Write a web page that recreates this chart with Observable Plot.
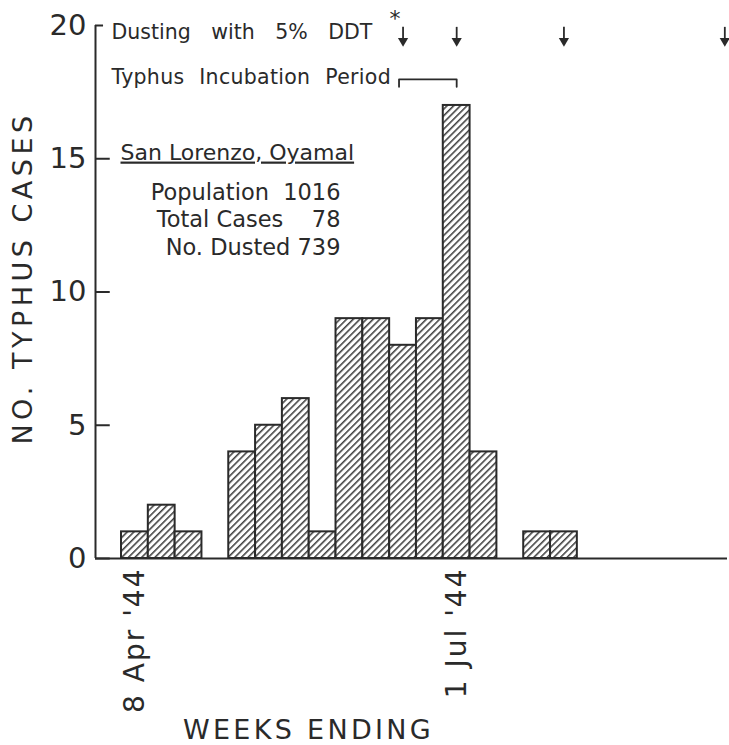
<!DOCTYPE html>
<html><head><meta charset="utf-8">
<script src="https://cdn.jsdelivr.net/npm/d3@7"></script>
<script src="https://cdn.jsdelivr.net/npm/@observablehq/plot@0.6"></script>
<style>body{margin:0;background:#fff;} svg{display:block;}</style>
</head><body><div id="chart"></div>
<script>
// week index 0 = week ending 8 Apr '44
const weeks = [0,1,2,3,4,5,6,7,8,9,10,11,12,13,14,15,16];
const cases = [1,2,1,0,4,5,6,1,9,9,8,9,17,4,0,1,1];
const tickWeeks = [0, 12];
const tickLabels = ["8 Apr '44", "1 Jul '44"];
const yTicks = [0, 5, 10, 15, 20];
const dustingWeeks = [10, 12, 16, 22];
const incubationWeeks = [9.85, 12];
const dustingText = "Dusting with 5% DDT";
const incubationText = "Typhus Incubation Period";
const placeTitle = "San Lorenzo, Oyamal";
const statLabels = ["Population", "Total Cases", "No. Dusted"];
const statValues = [1016, 78, 739];
const yTitle = "NO. TYPHUS CASES";
const xTitle = "WEEKS ENDING";

const data = weeks.map((w, i) => ({week: w, cases: cases[i]})).filter(d => d.cases > 0);
const ink = "#2a2a2a";
const font = "DejaVu Sans";
const xMin = -1.47, xMax = 22.1;
const bracketY = 17.98, bracketDrop = 0.28;
const bracket = [
  {x: incubationWeeks[0], y: bracketY - bracketDrop},
  {x: incubationWeeks[0], y: bracketY},
  {x: incubationWeeks[1], y: bracketY},
  {x: incubationWeeks[1], y: bracketY - bracketDrop}
];

const statGaps = [2, 4, 1];
const statMarks = statLabels.map((label, i) =>
  Plot.text([label + "\u00a0".repeat(statGaps[i]) + statValues[i]], {frameAnchor: "top-left", dx: 245, dy: 167 + i * 27.5,
    textAnchor: "end", lineAnchor: "middle", fontSize: 22.5, fill: ink}));

const svg = Plot.plot({
  width: 729, height: 745,
  marginTop: 25, marginBottom: 187, marginLeft: 95, marginRight: 2,
  style: {fontFamily: font, color: ink, background: "white", overflow: "visible"},
  x: {domain: [xMin, xMax], axis: null},
  y: {domain: [0, 20], axis: null},
  marks: [
    Plot.rectY(data, {x1: d => d.week - 0.5, x2: d => d.week + 0.5, y: "cases",
      fill: "url(#hatch)", stroke: ink, strokeWidth: 2, inset: 0}),
    Plot.ruleY([0], {stroke: ink, strokeWidth: 2}),
    Plot.ruleX([xMin], {stroke: ink, strokeWidth: 2}),
    Plot.ruleY(yTicks, {x1: xMin, x2: d => xMin + (d === 20 ? 0.3 : 0.55), stroke: ink, strokeWidth: 2}),
    Plot.text(yTicks, {x: xMin, y: d => d, text: d => String(d), dx: -9, textAnchor: "end", fontSize: 29, fill: ink}),
    Plot.text(tickWeeks, {x: d => d, y: 0, text: (d, i) => tickLabels[i], rotate: -90, textAnchor: "end", dy: 9, fontSize: 28, fill: ink}),
    Plot.text([yTitle], {frameAnchor: "left", textAnchor: "middle", lineAnchor: "middle", dx: -72, dy: -14, rotate: -90, fontSize: 27, fill: ink}),
    Plot.text([xTitle], {frameAnchor: "bottom", textAnchor: "middle", lineAnchor: "middle", dx: -103, dy: 172, fontSize: 27, fill: ink}),
    // dusting arrows
    Plot.ruleX(dustingWeeks, {y1: 19.93, y2: 19.45, stroke: ink, strokeWidth: 1.8}),
    Plot.dot(dustingWeeks, {x: d => d, y: 19.42, symbol: "triangle", r: 3.8, rotate: 180, fill: ink, stroke: "none"}),
    Plot.text(["*"], {x: dustingWeeks[0], y: 20, dx: -8, dy: -7, fontSize: 22, fill: ink}),
    Plot.text([dustingText], {frameAnchor: "top-left", dx: 16, dy: 7, textAnchor: "start", lineAnchor: "middle", fontSize: 20.5, fill: ink}),
    Plot.text([incubationText], {frameAnchor: "top-left", dx: 16, dy: 52, textAnchor: "start", lineAnchor: "middle", fontSize: 20.5, fill: ink}),
    Plot.line(bracket, {x: "x", y: "y", stroke: ink, strokeWidth: 1.8}),
    // inset info
    Plot.text([placeTitle], {frameAnchor: "top-left", dx: 25, dy: 127, textAnchor: "start", lineAnchor: "middle", fontSize: 22, fill: ink}),
    ...statMarks
  ]
});

const s = d3.select(svg);
const defs = s.insert("defs", ":first-child");
const p = 4.7;
const pat = defs.append("pattern").attr("id", "hatch").attr("patternUnits", "userSpaceOnUse")
  .attr("width", p).attr("height", p).attr("patternTransform", "rotate(45)");
pat.append("rect").attr("width", p).attr("height", p).attr("fill", "white");
pat.append("line").attr("x1", 0.8).attr("y1", 0).attr("x2", 0.8).attr("y2", p).attr("stroke", ink).attr("stroke-width", 1.4);

const textStyles = {
  [dustingText]: "word-spacing:14px",
  [incubationText]: "letter-spacing:0.3px;word-spacing:8px",
  [yTitle]: "letter-spacing:4.5px",
  [xTitle]: "letter-spacing:3.3px",
  [tickLabels[0]]: "letter-spacing:2px",
  [tickLabels[1]]: "letter-spacing:2px",
  [placeTitle]: "text-decoration:underline"
};
s.selectAll("text").each(function() {
  const st = textStyles[this.textContent];
  if (st) this.setAttribute("style", st);
});

document.getElementById("chart").appendChild(svg);
</script>
</body></html>
